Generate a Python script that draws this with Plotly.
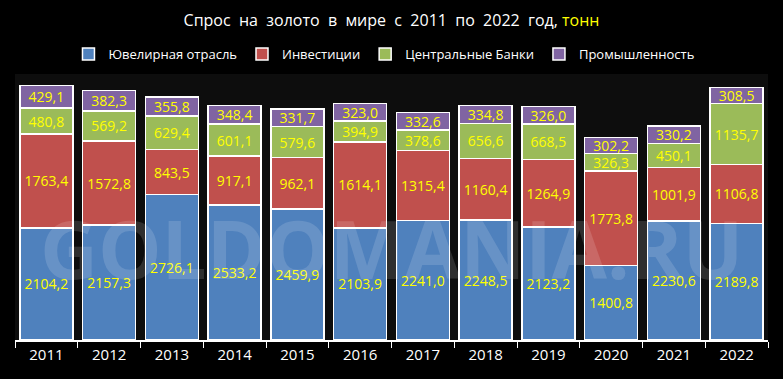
import plotly.graph_objects as go

years = ["2011", "2012", "2013", "2014", "2015", "2016", "2017", "2018", "2019", "2020", "2021", "2022"]
jewelry = [2104.2, 2157.3, 2726.1, 2533.2, 2459.9, 2103.9, 2241.0, 2248.5, 2123.2, 1400.8, 2230.6, 2189.8]
investment = [1763.4, 1572.8, 843.5, 917.1, 962.1, 1614.1, 1315.4, 1160.4, 1264.9, 1773.8, 1001.9, 1106.8]
central_banks = [480.8, 569.2, 629.4, 601.1, 579.6, 394.9, 378.6, 656.6, 668.5, 326.3, 450.1, 1135.7]
industry = [429.1, 382.3, 355.8, 348.4, 331.7, 323.0, 332.6, 334.8, 326.0, 302.2, 330.2, 308.5]

series = [
    ("Ювелирная отрасль", jewelry, "#4f81bd"),
    ("Инвестиции", investment, "#c0504d"),
    ("Центральные Банки", central_banks, "#9bbb59"),
    ("Промышленность", industry, "#8064a2"),
]

def fmt(v):
    return f"{v:.1f}".replace(".", ",")

fig = go.Figure()
for name, vals, color in series:
    fig.add_trace(go.Bar(
        name=name, x=years, y=vals,
        marker=dict(color=color, line=dict(color="white", width=1.5)),
        text=[fmt(v) for v in vals],
        textposition="inside", insidetextanchor="middle", textangle=0,
        constraintext="none",
        textfont=dict(color="#ffff00", size=14, family="Open Sans"),
        hoverinfo="skip",
    ))

fig.update_layout(
    barmode="stack",
    bargap=0.155,
    width=783, height=379,
    paper_bgcolor="black",
    plot_bgcolor="#0d0d0d",
    margin=dict(l=15, r=15, t=74, b=39),
    uniformtext=dict(mode=False),
    title=dict(
        text="Спрос  на  золото  в  мире  с  2011  по  2022  год, <span style='color:#ffff00'>тонн</span>",
        x=0.5, xanchor="center", y=0.945, yanchor="middle",
        font=dict(color="white", size=16, family="Open Sans"),
    ),
    legend=dict(
        orientation="h", x=0.49, xanchor="center", y=1.075, yanchor="middle",
        font=dict(color="white", size=13, family="Open Sans"),
        bgcolor="rgba(0,0,0,0)", itemwidth=30, traceorder="normal",
    ),
    xaxis=dict(
        tickson="boundaries", ticks="outside", ticklen=6, tickcolor="white",
        showline=True, linecolor="white", linewidth=1.5,
        tickfont=dict(color="white", size=15, family="Open Sans"),
        showgrid=False,
    ),
    yaxis=dict(range=[0, 4990], visible=False, showgrid=False),
    annotations=[dict(
        text="GOLDOMANIA.RU", xref="paper", yref="paper", x=0.5, y=0.346,
        showarrow=False,
        font=dict(family="Open Sans", size=80, weight="bold",
                  color="rgba(255,255,255,0.14)"),
    )],
)

fig.write_html(
    "out.html",
    config={"displayModeBar": False},
    post_script="document.body.style.margin='0';document.body.style.background='black';",
)
